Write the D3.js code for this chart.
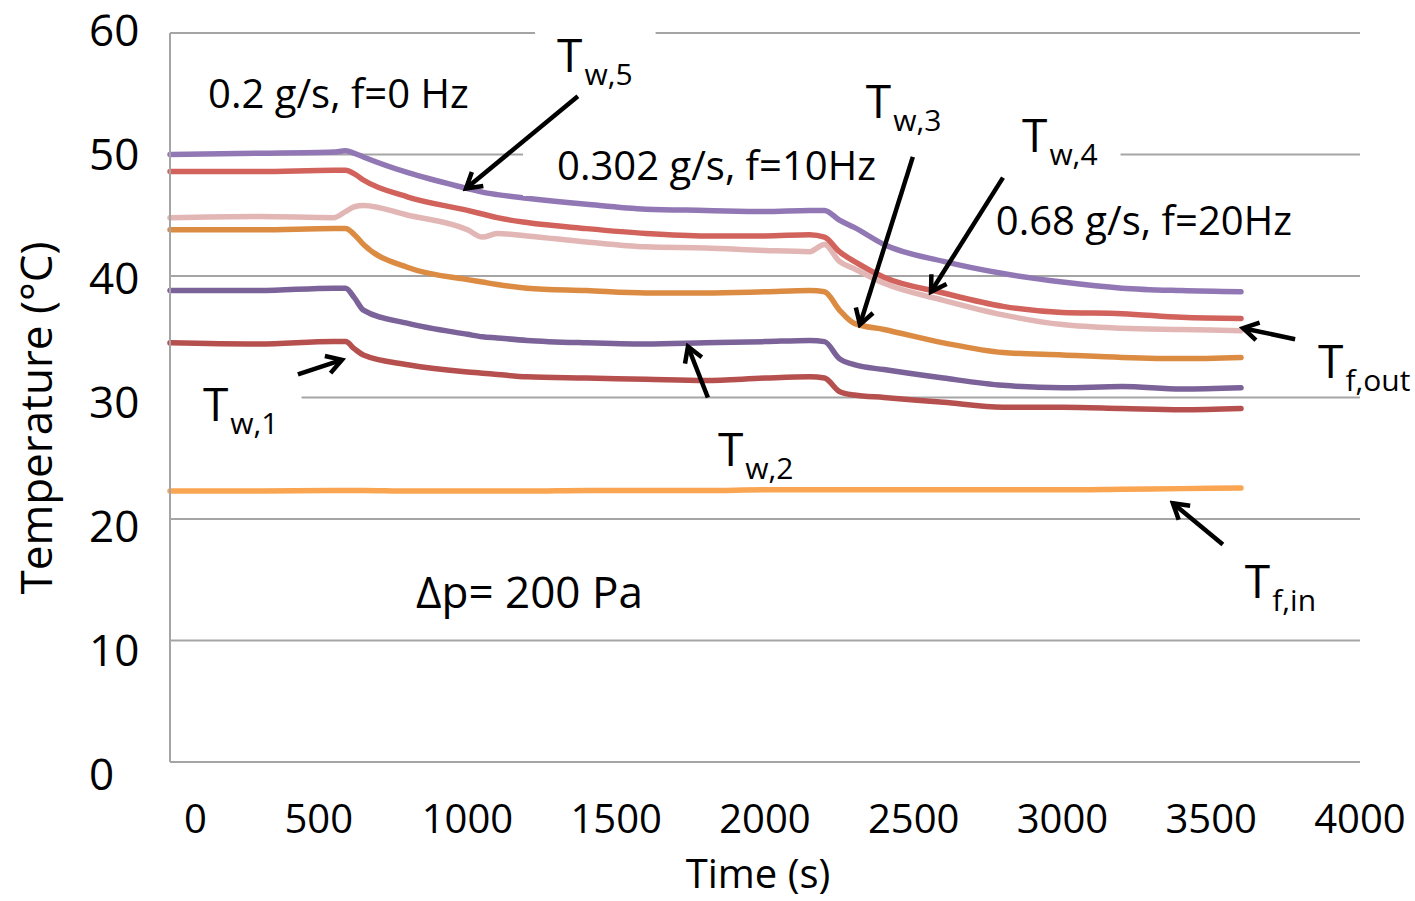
<!DOCTYPE html>
<html>
<head>
<meta charset="utf-8">
<script src="https://cdn.jsdelivr.net/npm/d3@7"></script>
<style>
body { margin: 0; background: #fff; }
text { font-family: "Open Sans", sans-serif; fill: #000; }
</style>
</head>
<body>
<div id="chart"></div>
<script>
// time stamps (s) shared by every series
var times = [0, 300, 550, 590, 620, 650, 800, 1000, 1050, 1100, 1200, 1400, 1600, 1800,
             2000, 2150, 2200, 2250, 2300, 2400, 2600, 2800, 3000, 3200, 3400, 3600];

// temperatures (°C)
var tw5  = [50.0, 50.1, 50.2, 50.3, 50.1, 49.8, 48.5, 47.2, 46.9, 46.7, 46.4, 45.9, 45.5, 45.4,
            45.3, 45.4, 45.4, 44.6, 44.0, 42.6, 41.2, 40.2, 39.5, 39.0, 38.8, 38.7];
var tw4  = [48.6, 48.6, 48.7, 48.7, 48.4, 47.9, 46.5, 45.4, 45.1, 44.8, 44.4, 43.9, 43.5, 43.3,
            43.3, 43.4, 43.2, 42.0, 41.2, 39.9, 38.6, 37.5, 37.0, 36.9, 36.6, 36.5];
var tfout = [44.8, 44.9, 44.8, 45.3, 45.7, 45.8, 45.0, 43.8, 43.2, 43.5, 43.3, 42.8, 42.4, 42.3,
            42.1, 42.0, 42.6, 41.2, 40.6, 39.4, 38.0, 36.8, 36.0, 35.7, 35.6, 35.5];
var tw3  = [43.8, 43.8, 43.9, 43.9, 43.4, 42.6, 40.7, 39.7, 39.5, 39.3, 39.0, 38.8, 38.6, 38.6,
            38.7, 38.8, 38.7, 37.2, 36.1, 35.6, 34.5, 33.7, 33.5, 33.3, 33.2, 33.3];
var tw2  = [38.8, 38.8, 39.0, 39.0, 38.2, 37.2, 36.1, 35.2, 35.0, 34.9, 34.7, 34.5, 34.4, 34.5,
            34.6, 34.7, 34.6, 33.2, 32.7, 32.3, 31.6, 31.0, 30.8, 30.9, 30.7, 30.8];
var tw1  = [34.5, 34.4, 34.6, 34.6, 34.0, 33.5, 32.7, 32.1, 32.0, 31.9, 31.7, 31.6, 31.5, 31.4,
            31.6, 31.7, 31.6, 30.5, 30.2, 30.0, 29.6, 29.2, 29.2, 29.1, 29.0, 29.1];
var tfin = [22.3, 22.3, 22.35, 22.35, 22.35, 22.35, 22.3, 22.3, 22.3, 22.3, 22.3, 22.35, 22.35, 22.35,
            22.4, 22.4, 22.4, 22.4, 22.4, 22.4, 22.4, 22.4, 22.4, 22.45, 22.5, 22.55];

// axis ticks
var xTicks = [0, 500, 1000, 1500, 2000, 2500, 3000, 3500, 4000];
var yTicks = [0, 10, 20, 30, 40, 50, 60];

var seriesNames = ["tfin", "tw1", "tw2", "tw3", "tfout", "tw4", "tw5"];
var seriesValues = { tw5: tw5, tw4: tw4, tfout: tfout, tw3: tw3, tw2: tw2, tw1: tw1, tfin: tfin };
var colors = {
    tw5: "#9178b4", tw4: "#d1625c", tfout: "#e2b6b5", tw3: "#dc8b42",
    tw2: "#7b6399", tw1: "#b5504e", tfin: "#f9a552"
};

// annotations in data coordinates (time, temperature)
var arrows = [
    [1371, 54.8, 995, 47.2],
    [2497, 49.8, 2319, 36.0],
    [2800, 48.1, 2558, 38.7],
    [3782, 34.8, 3607, 35.7],
    [430, 31.9, 578, 33.1],
    [1808, 30.0, 1741, 34.2],
    [3539, 17.9, 3371, 21.3]
];
var notes = [
    { text: "0.2 g/s, f=0 Hz", t: 128, v: 53.8, size: 40, pad: [20, 20] },
    { text: "0.302 g/s, f=10Hz", t: 1301, v: 47.9, size: 40, pad: [34, 130] },
    { text: "0.68 g/s, f=20Hz", t: 2776, v: 43.4, size: 40, pad: [12, 12] },
    { text: "\u0394p= 200 Pa", t: 827, v: 12.7, size: 44, pad: [20, 20] }
];
var symbols = [
    { sub: "w,5", t: 1301, v: 56.8, pad: [22, 23] },
    { sub: "w,3", t: 2339, v: 53.0, pad: [20, 20] },
    { sub: "w,4", t: 2864, v: 50.2, pad: [25, 23] },
    { sub: "f,out", t: 3859, v: 31.6, pad: [21, 40] },
    { sub: "w,1", t: 111, v: 28.1, pad: [40, 23] },
    { sub: "w,2", t: 1842, v: 24.4, pad: [20, 20] },
    { sub: "f,in", t: 3613, v: 13.5, pad: [20, 20] }
];

var svgWidth = 1415;
var svgHeight = 901;

var svg = d3.select("#chart")
    .append("svg")
    .attr("width", svgWidth)
    .attr("height", svgHeight)
    .style("background", "#fff");

var x = d3.scaleLinear().domain([0, 4000]).range([170, 1360]);
var y = d3.scaleLinear().domain([0, 60]).range([762, 33]);
// y tick labels in the picture sit on a slightly wider spread than the grid
var yLab = d3.scaleLinear().domain([0, 60]).range([773, 29]);

// gridlines
svg.append("g")
    .selectAll("line")
    .data(yTicks)
    .enter()
    .append("line")
    .attr("x1", x(0))
    .attr("x2", x(4000))
    .attr("y1", d => y(d))
    .attr("y2", d => y(d))
    .attr("stroke", "#a5a5a5")
    .attr("stroke-width", 2);

// tick labels
svg.append("g")
    .selectAll("text")
    .data(yTicks)
    .enter()
    .append("text")
    .attr("x", 89)
    .attr("y", d => yLab(d))
    .attr("dominant-baseline", "central")
    .attr("font-size", "44px")
    .text(d => d);

svg.append("g")
    .selectAll("text")
    .data(xTicks)
    .enter()
    .append("text")
    .attr("x", d => d === 0 ? x(d) + 14 : x(d))
    .attr("y", 817)
    .attr("text-anchor", d => d === 0 ? "start" : "middle")
    .attr("dominant-baseline", "central")
    .attr("font-size", "40px")
    .text(d => d);

svg.append("text")
    .attr("x", 758)
    .attr("y", 872)
    .attr("text-anchor", "middle")
    .attr("dominant-baseline", "central")
    .attr("font-size", "40px")
    .text("Time (s)");

svg.append("text")
    .attr("transform", "translate(35,418) rotate(-90)")
    .attr("text-anchor", "middle")
    .attr("dominant-baseline", "central")
    .attr("font-size", "44px")
    .text("Temperature (\u00b0C)");

// data lines
var line = d3.line()
    .x((d, i) => x(times[i]))
    .y(d => y(d))
    .curve(d3.curveMonotoneX);

svg.append("g")
    .selectAll("path")
    .data(seriesNames)
    .enter()
    .append("path")
    .attr("d", d => line(seriesValues[d]))
    .attr("fill", "none")
    .attr("stroke", d => colors[d])
    .attr("stroke-width", 5.5)
    .attr("stroke-linecap", "round")
    .attr("stroke-linejoin", "round");

// text boxes (white backgrounds) go above the lines
var boxLayer = svg.append("g");
var axisLayer = svg.append("g");
var arrowLayer = svg.append("g");
var textLayer = svg.append("g");

axisLayer.append("line")
    .attr("x1", x(0)).attr("x2", x(0))
    .attr("y1", y(0)).attr("y2", y(60))
    .attr("stroke", "#a5a5a5")
    .attr("stroke-width", 2);

function addBox(node, pad, padBottom) {
    var b = node.getBBox();
    boxLayer.append("rect")
        .attr("x", b.x - pad[0])
        .attr("y", b.y - 4)
        .attr("width", b.width + pad[0] + pad[1])
        .attr("height", b.height + 4 + padBottom)
        .attr("fill", "#fff");
}

notes.forEach(function(n) {
    var t = textLayer.append("text")
        .attr("x", x(n.t))
        .attr("y", y(n.v))
        .attr("font-size", n.size + "px")
        .text(n.text);
    addBox(t.node(), n.pad, 4);
});

symbols.forEach(function(s) {
    var t = textLayer.append("text")
        .attr("x", x(s.t))
        .attr("y", y(s.v))
        .attr("font-size", "46px");
    t.append("tspan").text("T");
    t.append("tspan")
        .attr("font-size", "30px")
        .attr("dx", 2)
        .attr("dy", 13)
        .text(s.sub);
    addBox(t.node(), s.pad, -6);
});

// arrows
svg.append("defs")
    .append("marker")
    .attr("id", "head")
    .attr("viewBox", "-18 -12 22 24")
    .attr("markerWidth", 22)
    .attr("markerHeight", 24)
    .attr("markerUnits", "userSpaceOnUse")
    .attr("refX", 0)
    .attr("refY", 0)
    .attr("orient", "auto")
    .append("path")
    .attr("d", "M-15,-9 L0,0 L-15,9")
    .attr("fill", "none")
    .attr("stroke", "#000")
    .attr("stroke-width", 4.5);

arrowLayer.selectAll("line")
    .data(arrows)
    .enter()
    .append("line")
    .attr("x1", d => x(d[0]))
    .attr("y1", d => y(d[1]))
    .attr("x2", d => x(d[2]))
    .attr("y2", d => y(d[3]))
    .attr("stroke", "#000")
    .attr("stroke-width", 4.5)
    .attr("marker-end", "url(#head)");
</script>
</body>
</html>
